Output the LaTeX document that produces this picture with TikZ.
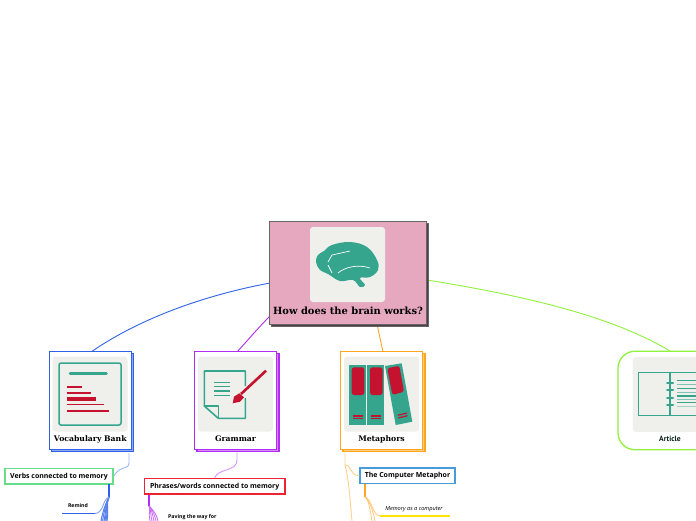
\documentclass[tikz,border=0pt]{standalone}
\usepackage{fontspec}
\setmainfont{Open Sans}
\newfontfamily\slabfont{DejaVu Serif}
\newfontfamily\narrowfont{PT Sans}
\usetikzlibrary{positioning}
\definecolor{rootpink}{HTML}{E6A8BF}
\definecolor{panelgrey}{HTML}{EFF0EC}
\definecolor{teal}{HTML}{35A58E}
\definecolor{crimson}{HTML}{C4122F}
\definecolor{vocabblue}{HTML}{2F62E6}
\definecolor{grammarpurple}{HTML}{B22CF5}
\definecolor{metaorange}{HTML}{FFA51F}
\definecolor{articlelime}{HTML}{8FF23C}
\definecolor{versegreen}{HTML}{66DD88}
\definecolor{phrasered}{HTML}{EE2233}
\definecolor{computerblue}{HTML}{4A9AD8}
\tikzset{
  topicbox/.style={draw=#1, fill=white, line width=1.5pt, minimum width=82pt, minimum height=98pt, inner sep=0pt},
  backbox/.style={draw=#1, fill=#1!55, line width=1.3pt, minimum width=82pt, minimum height=98pt, inner sep=0pt},
  panel/.style={fill=panelgrey, rounded corners=3pt, minimum width=75pt, minimum height=75pt, inner sep=0pt},
  caption/.style={font=\slabfont\bfseries\fontsize{7.7}{9}\selectfont, inner sep=0pt},
  subbox/.style={draw=#1, fill=white, line width=1.5pt, font=\bfseries\fontsize{6.95}{8}\selectfont, inner sep=0pt, minimum height=15.5pt},
  leaf/.style={font=\bfseries\fontsize{5.2}{7}\selectfont, inner sep=0pt},
  link/.style={draw=#1, line width=0.9pt},
}
\begin{document}
\begin{tikzpicture}[x=1pt,y=-1pt]
\clip (0,0) rectangle (696,520);
\fill[white] (0,0) rectangle (696,520);
% links from the root
\coordinate (vocabtop) at (91,352);
\coordinate (grammartop) at (237,352);
\coordinate (metatop) at (383,352);
\coordinate (articletop) at (670,351);
\coordinate (rootl) at (270,283);
\coordinate (rootg) at (271,315);
\coordinate (rootm) at (377,324);
\coordinate (rootr) at (427,280);
\draw[link=vocabblue] (rootl) .. controls (190,298) and (130,325) .. (vocabtop);
\draw[link=grammarpurple] (rootg) .. controls (258,328) and (248,340) .. (grammartop);
\draw[link=metaorange] (rootm) to (metatop);
\draw[link=articlelime] (rootr) .. controls (520,295) and (610,315) .. (articletop);
% root
\node[draw=black!60, fill=black!65!rootpink, line width=1pt, minimum width=157pt, minimum height=103pt, inner sep=0pt] (rootback) at (349.5,274.5){};
\node[draw=black!60, fill=rootpink, line width=1pt, minimum width=157pt, minimum height=103pt, inner sep=0pt] (root) at (347.5,272.5){};
\node[panel] (brainpanel) at (347.5,264.5){};
\fill[teal] plot[smooth cycle, tension=0.65] coordinates {(316,262) (318,255) (324,251) (332,245) (350,242) (367,247) (377,260) (378,270) (370,277) (360,278) (365,285) (360,287) (353,280) (340,281) (328,274) (320,270)};
\draw[white, line width=0.7pt] (328,262) -- (332,255) -- (350,251) (328,265) -- (332,273) (338,273) .. controls (345,267) and (358,264) .. (370,268);
\node[font=\slabfont\bfseries\fontsize{9.9}{11}\selectfont, inner sep=0pt] (roottext) at (348,310.5){How does the brain works?};
% vocabulary bank
\node[backbox=vocabblue] (vocabback) at (92.8,402.5){};
\node[topicbox=vocabblue] (vocab) at (90.3,400.5){};
\node[panel] (vocabpanel) at (90,394){};
\draw[teal, line width=1.5pt, rounded corners=2pt] (59,363) rectangle (121,425);
\draw[teal, line width=2.5pt, line cap=round] (70,373.3) -- (106.5,373.3);
\foreach \y/\xend/\w in {386.7/82.3/1.6, 393/90.7/1.6, 399/95.7/3.5, 404.3/104/1.6, 411/109/1.6}
  \draw[crimson, line width=\w pt] (66.7,\y) -- (\xend,\y);
\node[caption] (vocabtext) at (90.3,439){Vocabulary Bank};
% grammar
\node[backbox=grammarpurple] (grammarback) at (238,402.5){};
\node[topicbox=grammarpurple] (grammar) at (235.5,400.5){};
\node[panel] (grammarpanel) at (235.5,394){};
\draw[teal, line width=1.6pt, line join=round] (245.3,386) -- (245.3,371) -- (204.3,371) -- (204.3,406) -- (218.3,418.3) -- (245.3,418.3) -- (245.3,398);
\draw[teal, line width=1.4pt, line join=round] (204.3,406) -- (218.3,406) -- (218.3,418.3);
\foreach \y in {382.7,386.7,391,395.7}
  \draw[teal, line width=1.2pt] (214,\y) -- (230,\y);
\draw[crimson, line width=2.6pt] (266,370.7) -- (241,394);
\fill[crimson] (232.7,403.3) -- (234,396.7) -- (239.3,393.3) -- (244,397.3) -- (240,401.7) -- cycle;
\node[caption] (grammartext) at (235.5,439){Grammar};
% metaphors
\node[backbox=metaorange] (metaback) at (384,402.5){};
\node[topicbox=metaorange] (meta) at (381.5,400.5){};
\node[panel] (metapanel) at (381.5,394){};
\foreach \x in {349,367.3}{
  \fill[teal] (\x,365) rectangle ++(17,60);
  \fill[crimson, rounded corners=2.5pt] (\x+2.7,367.3) rectangle ++(12.6,27.7);
  \draw[crimson, line width=1.2pt] (\x+3.7,416) -- ++(10,0) (\x+3.7,418.7) -- ++(10,0);
}
\fill[teal] (385,366) -- (401.7,363.3) -- (412.3,421.7) -- (395.7,425) -- cycle;
\fill[crimson, rounded corners=2.5pt] (387.3,368.3) -- (399.3,365.7) -- (404,391.7) -- (392.3,395) -- cycle;
\draw[crimson, line width=1.2pt] (397.7,415.3) -- (407,413) (398.2,418) -- (407.5,415.7);
\node[caption] (metatext) at (381.5,439.5){Metaphors};
% article
\node[draw=articlelime, fill=white, line width=1.3pt, rounded corners=17pt, minimum width=104pt, minimum height=98.5pt, inner sep=0pt] (article) at (670,400.5){};
\node[panel, anchor=north west] (articlepanel) at (632.7,356.7){};
\draw[teal, line width=1.4pt] (700,372.3) -- (638.7,372.3) -- (638.7,415.7) -- (700,415.7) (670,372.3) -- (670,415.7);
\foreach \y in {383,390.3,397.7,405}
  \draw[teal, line width=2pt, line cap=round] (667,\y) -- (673,\y);
\foreach \y/\o in {380.7/100,384.3/60,388.3/100,392.3/60,396/100,399.3/60,402.7/100,406.3/40}
  \draw[teal!\o!panelgrey, line width=1.1pt] (677.3,\y) -- (696,\y);
\node[font=\narrowfont\bfseries\fontsize{7.6}{9}\selectfont, text=black!80!teal, inner sep=0pt] (articletext) at (670,439){Article};
% second level
\node[subbox=versegreen, minimum width=108pt] (verbs) at (59,476.2){Verbs connected to memory};
\node[subbox=phrasered, minimum width=140.5pt] (phrases) at (214.7,486.3){Phrases/words connected to memory};
\node[subbox=computerblue, minimum width=95pt] (computer) at (407.5,475.8){The Computer Metaphor};
% vocabulary branch
\coordinate (vocabfoot) at (129,453);
\draw[link=vocabblue!45] (vocabfoot) -- (129,463) .. controls (129,470) and (120,465) .. (verbs.east);
\coordinate (verbsjoint) at (109,497);
\draw[vocabblue, line width=1.8pt] (109,484) -- (verbsjoint);
\foreach \xend in {101,102.5,104,105,106,107}
  \draw[vocabblue!80, line width=1pt] (verbsjoint) .. controls (106,503) and (\xend+2,510) .. (\xend,521);
\node[leaf] (remind) at (78,506){Remind};
\coordinate (remindl) at (62,513.5);
\coordinate (remindr) at (95,513.5);
\fill[vocabblue] (62,512.7) rectangle (95,514.3);
\draw[vocabblue!60, line width=0.9pt] (remindr) .. controls (104,513) and (102,500) .. (verbsjoint);
% grammar branch
\coordinate (grammarfoot) at (237,452.5);
\draw[link=grammarpurple!50] (grammarfoot) -- (237,460) .. controls (237,472) and (218,468) .. (phrases.north);
\coordinate (phrasesjoint) at (149,506);
\draw[grammarpurple, line width=1.8pt] (149,495) -- (phrasesjoint);
\foreach \xend in {150,152,154,156,158}
  \draw[grammarpurple!70, line width=0.8pt] (phrasesjoint) .. controls (151,508) and (\xend-2,512) .. (\xend,521);
\node[leaf, anchor=west] (paving) at (168,517){Paving the way for};
% metaphors branch
\coordinate (metafoot) at (345,452.5);
\coordinate (metaout) at (352,521);
\draw[link=metaorange!50] (metafoot) -- (345,465) .. controls (352,465) and (350,476) .. (computer.west);
\draw[link=metaorange!50] (345,465) .. controls (349,480) and (350,500) .. (metaout);
\coordinate (computerjoint) at (365,497);
\draw[metaorange, line width=1.8pt] (365,484) -- (computerjoint);
\foreach \xend in {372,375}
  \draw[metaorange!60, line width=0.8pt] (computerjoint) .. controls (369,500) and (\xend-2,510) .. (\xend,521);
\node[font=\itshape\fontsize{5.6}{7}\selectfont, inner sep=0pt] (memory) at (414,509){Memory as a computer};
\coordinate (memoryl) at (380,516);
\coordinate (memoryr) at (450,516);
\draw[yellow!90!orange, line width=1.2pt] (memoryl) -- (memoryr);
\draw[metaorange!60, line width=0.8pt] (memoryl) .. controls (372,515) and (372,499) .. (computerjoint);
\end{tikzpicture}
\end{document}
